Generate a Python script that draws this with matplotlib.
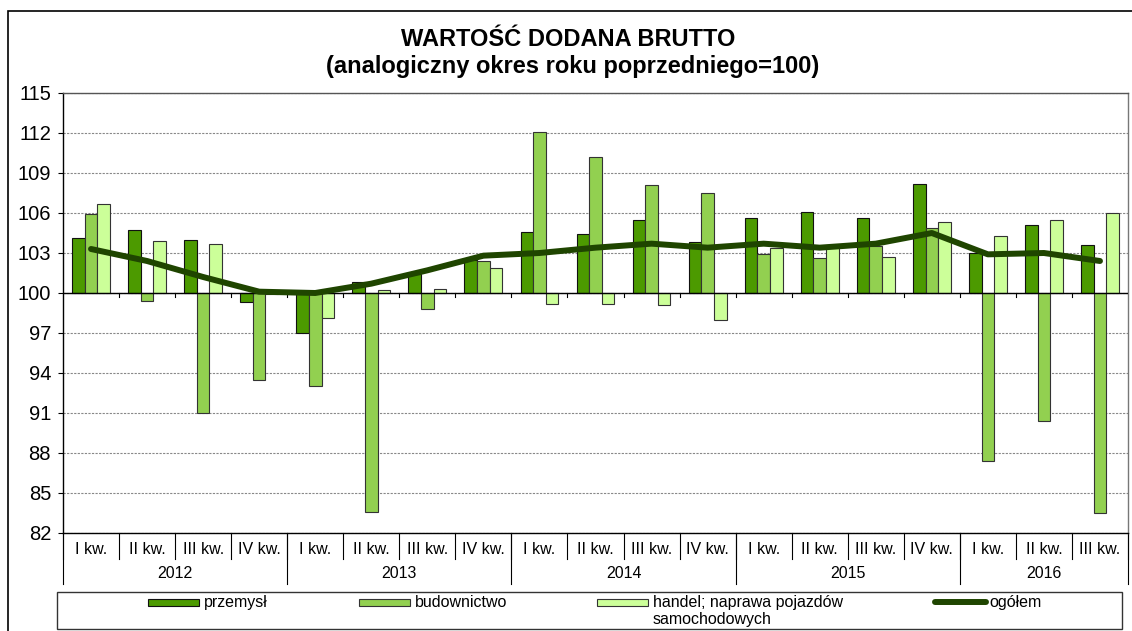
import matplotlib
matplotlib.use('Agg')
import matplotlib.pyplot as plt
import matplotlib.transforms as mtransforms
from matplotlib.patches import Rectangle
from matplotlib.lines import Line2D
import numpy as np

plt.rcParams['font.family'] = ['Liberation Sans', 'DejaVu Sans']

# dane kwartalne (analogiczny okres roku poprzedniego = 100)
kwartaly = ['I kw.', 'II kw.', 'III kw.', 'IV kw.'] * 4 + ['I kw.', 'II kw.', 'III kw.']
lata = ['2012', '2013', '2014', '2015', '2016']
przemysl = [104.1, 104.7, 104.0, 99.3, 97.0, 100.8, 101.4, 102.5, 104.6, 104.4,
            105.5, 103.8, 105.6, 106.1, 105.6, 108.2, 103.0, 105.1, 103.6]
budownictwo = [105.9, 99.4, 91.0, 93.5, 93.0, 83.6, 98.8, 102.4, 112.1, 110.2,
               108.1, 107.5, 102.9, 102.6, 103.5, 104.9, 87.4, 90.4, 83.5]
handel = [106.7, 103.9, 103.7, 99.9, 98.1, 100.2, 100.3, 101.9, 99.2, 99.2,
          99.1, 98.0, 103.4, 103.6, 102.7, 105.3, 104.3, 105.5, 106.0]
ogolem = [103.3, 102.4, 101.2, 100.1, 100.0, 100.7, 101.7, 102.8, 103.0, 103.4,
          103.7, 103.4, 103.7, 103.4, 103.7, 104.5, 102.9, 103.0, 102.4]

c_przem = '#4C9A00'
c_bud = '#92D050'
c_hand = '#CCFF99'
c_ogol = '#1F4500'

W, H = 1132, 631
fig = plt.figure(figsize=(W / 100, H / 100), dpi=100)
ax = fig.add_axes([63 / W, 1 - 533 / H, (1128 - 63) / W, (533 - 93) / H])

x = np.arange(len(kwartaly))
bw = 0.225
baza = 100
series = [(przemysl, c_przem, '#111111'), (budownictwo, c_bud, '#333333'), (handel, c_hand, '#333333')]
for i, (vals, col, ec) in enumerate(series):
    v = np.array(vals)
    ax.bar(x + (i - 1) * bw, v - baza, bw, bottom=baza, color=col,
           edgecolor=ec, linewidth=0.8, zorder=3)

ax.plot(x, ogolem, color=c_ogol, lw=4.3, solid_capstyle='round',
        solid_joinstyle='round', zorder=5)

# os wartosci
ax.set_xlim(-0.5, len(kwartaly) - 0.5)
ax.set_ylim(82, 115)
ax.set_yticks(np.arange(82, 116, 3))
ax.tick_params(axis='y', direction='out', length=3.6, width=0.8, labelsize=14.5, pad=5)
ax.set_xticks([])
ax.yaxis.grid(True, color='#888888', linestyle=(0, (2, 1.2)), linewidth=0.8, zorder=0)
ax.set_axisbelow(True)
ax.spines['left'].set_color('black')
ax.spines['bottom'].set_color('black')
ax.spines['top'].set_color('#555555')
ax.spines['right'].set_color('#777777')
for s in ax.spines.values():
    s.set_linewidth(1.0)

# linia 100 z kreskami miedzy kwartalami
ax.axhline(baza, color='black', lw=1.0, zorder=4)
ph = (533 - 93)
for b in np.arange(0.5, len(kwartaly) - 0.5):
    ax.plot([b, b], [baza, baza - 4 * 33 / ph], color='black', lw=0.8, zorder=4)

# opisy osi kategorii: kwartaly i lata
tr = mtransforms.blended_transform_factory(ax.transData, ax.transAxes)
for xi, k in zip(x, kwartaly):
    ax.text(xi, -16 / ph, k, transform=tr, ha='center', va='center', fontsize=11.5)
for b in np.arange(-0.5, len(kwartaly)):
    ax.plot([b, b], [0, -25.5 / ph], transform=tr, color='black', lw=0.8, clip_on=False)

granice = [-0.5, 3.5, 7.5, 11.5, 15.5, len(kwartaly) - 0.5]
for j, rok in enumerate(lata):
    ax.text((granice[j] + granice[j + 1]) / 2, -41 / ph, rok, transform=tr,
            ha='center', va='center', fontsize=11.5)
for b in granice:
    ax.plot([b, b], [0, -51 / ph], transform=tr, color='black', lw=0.8, clip_on=False)

# tytul
fig.text(568 / W, 1 - 39 / H, 'WARTOŚĆ DODANA BRUTTO', ha='center', va='center',
         fontsize=17, fontweight='bold')
fig.text(573 / W, 1 - 67 / H, '(analogiczny okres roku poprzedniego=100)', ha='center',
         va='center', fontsize=17, fontweight='bold')

# ramka wykresu
fig.patches.append(Rectangle((8 / W, -0.1), 1.2, 1.1 - 11 / H, transform=fig.transFigure,
                             fill=False, edgecolor='black', lw=1.2))

# legenda
fig.patches.append(Rectangle((57 / W, 1 - 629 / H), (1122 - 57) / W, (629 - 592) / H,
                             transform=fig.transFigure, fill=False, edgecolor='#333333', lw=1.0))
ly = 1 - 602 / H
for x0, col, ec, label in [(148, c_przem, '#111111', 'przemysł'),
                           (359, c_bud, '#333333', 'budownictwo'),
                           (597, c_hand, '#333333', 'handel; naprawa pojazdów\nsamochodowych')]:
    fig.patches.append(Rectangle((x0 / W, 1 - 606 / H), 51 / W, 7 / H, transform=fig.transFigure,
                                 facecolor=col, edgecolor=ec, lw=0.8))
    fig.text((x0 + 56) / W, ly + 7 / H, label, ha='left', va='top',
             fontsize=11.5, linespacing=1.2)
fig.lines.append(Line2D([935 / W, 986 / W], [ly, ly], transform=fig.transFigure,
                        color=c_ogol, lw=4.3, solid_capstyle='round'))
fig.text(989 / W, ly + 7 / H, 'ogółem', ha='left', va='top', fontsize=11.5)

fig.savefig('out.png', dpi=100)
